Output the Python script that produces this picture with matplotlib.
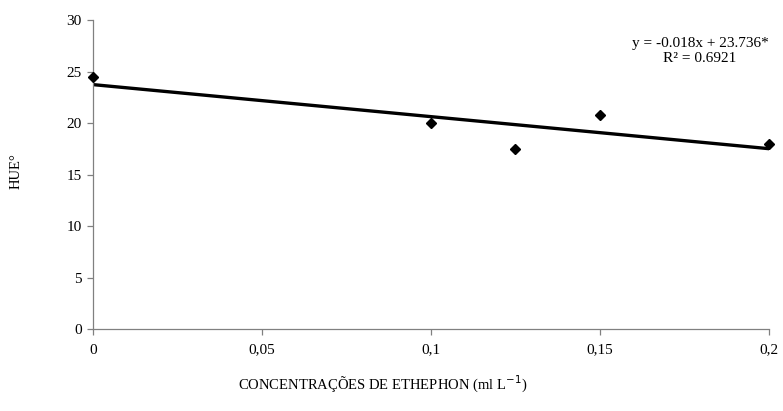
import numpy as np
import matplotlib.pyplot as plt

plt.rcParams['font.family'] = ['Liberation Serif', 'DejaVu Serif']

conc = [0, 0.1, 0.125, 0.15, 0.2]
hue = [24.5, 20.0, 17.5, 20.8, 18.0]
xticks = [0, 0.05, 0.1, 0.15, 0.2]
xticklabels = ["0", "0,05", "0,1", "0,15", "0,2"]
yticks = [0, 5, 10, 15, 20, 25, 30]

fig = plt.figure(figsize=(7.83, 4.11), dpi=100)
ax = fig.add_axes([0.1188, 0.1995, 0.8632, 0.7515])

# linear trend
slope, icpt = np.polyfit(conc, hue, 1)
tx = np.array([0, 0.2])
ax.plot(tx, icpt + slope * tx, color='black', lw=2.4, zorder=2)
ax.plot(conc, hue, 'D', color='black', ms=5.5, zorder=3, clip_on=False)

ax.set_xlim(0, 0.2)
ax.set_ylim(0, 30)
ax.set_xticks(xticks)
ax.set_xticklabels(xticklabels)
ax.set_yticks(yticks)

for s in ['top', 'right']:
    ax.spines[s].set_visible(False)
for s in ['left', 'bottom']:
    ax.spines[s].set_color('#808080')
    ax.spines[s].set_linewidth(0.9)
ax.tick_params(axis='both', colors='#808080', labelcolor='black', labelsize=11,
               length=4.5, width=0.9, direction='out')
ax.tick_params(axis='x', pad=6)

ax.set_xlabel("CONCENTRAÇÕES DE ETHEPHON (ml L$^{-1}$)", fontsize=10.5)
ax.xaxis.set_label_coords(0.428, -0.145)
ax.set_ylabel("HUE°", fontsize=10.5)
ax.yaxis.set_label_coords(-0.104, 0.51)

ax.text(0.898, 0.9, "y = -0.018x + 23.736*\nR² = 0.6921", transform=ax.transAxes,
        ha='center', va='center', fontsize=11, linespacing=1.15)

fig.savefig("out.png", dpi=100)
